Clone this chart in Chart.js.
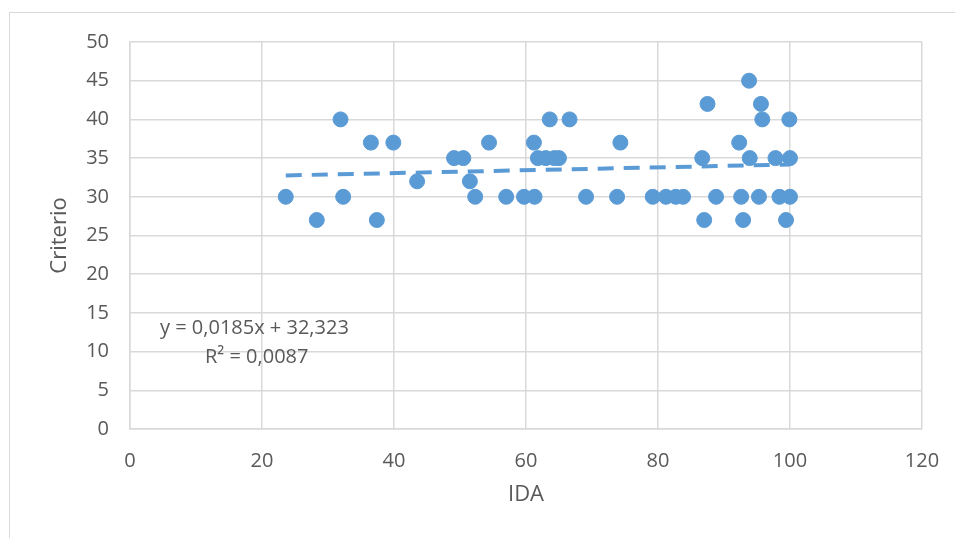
<!DOCTYPE html>
<html>
<head>
<meta charset="utf-8">
<script src="https://cdn.jsdelivr.net/npm/chart.js@4.4.1/dist/chart.umd.min.js"></script>
<style>
  body { margin: 0; background: #fff; }
  #wrap { position: relative; width: 955px; height: 538px; overflow: hidden; }
  #frame { position: absolute; left: 9px; top: 12px; width: 1000px; height: 600px;
           border-left: 1px solid #d9d9d9; border-top: 1px solid #d9d9d9; }
  canvas { position: absolute; left: 0; top: 0; }
</style>
</head>
<body>
<div id="wrap">
  <div id="frame"></div>
  <canvas id="myChart" width="955" height="538"></canvas>
</div>
<script>
// IDA (x) and Criterio (y)
const idaValues = [
  23.6, 32.3, 52.3, 57.0, 59.7, 61.3, 69.1, 73.8, 79.2, 81.2, 82.7, 83.8, 88.8, 92.6, 95.3, 98.4, 100,
  28.3, 37.4, 87.0, 92.9, 99.4,
  43.5, 51.5,
  49.1, 50.5, 61.8, 63.0, 64.3, 65.0, 86.7, 93.9, 97.8, 100,
  36.5, 39.9, 54.4, 61.2, 74.3, 92.3,
  31.9, 63.6, 66.6, 95.8, 99.9,
  87.5, 95.6,
  93.8
];
const criterioValues = [
  30, 30, 30, 30, 30, 30, 30, 30, 30, 30, 30, 30, 30, 30, 30, 30, 30,
  27, 27, 27, 27, 27,
  32, 32,
  35, 35, 35, 35, 35, 35, 35, 35, 35, 35,
  37, 37, 37, 37, 37, 37,
  40, 40, 40, 40, 40,
  42, 42,
  45
];

// linear trend line ends
const trendX = [23.6, 100];
const trendY = [32.76, 34.17];

const equationLines = ['y = 0,0185x + 32,323', 'R\u00b2 = 0,0087'];

const blue = '#5b9bd5';
const grey = '#595959';
const gridGrey = '#d9d9d9';
const fontName = '"Open Sans", sans-serif';

let points = idaValues.map((x, i) => ({ x: x, y: criterioValues[i] }));
let trend = trendX.map((x, i) => ({ x: x, y: trendY[i] }));

const equationLabel = {
  id: 'equationLabel',
  afterDatasetsDraw(chart) {
    const c = chart.ctx;
    c.save();
    c.fillStyle = grey;
    c.font = '20px ' + fontName;
    c.textBaseline = 'middle';
    c.fillText(equationLines[0], 160, 328);
    c.fillText(equationLines[1], 205, 357);
    c.restore();
  }
};

const ctx = document.getElementById('myChart');

new Chart(ctx, {
  type: 'scatter',
  data: {
    datasets: [
      {
        label: 'Criterio',
        data: points,
        backgroundColor: blue,
        borderColor: blue,
        pointRadius: 7.5,
        pointHoverRadius: 7.5,
        order: 1
      },
      {
        label: 'Lineal',
        type: 'line',
        data: trend,
        borderColor: blue,
        borderWidth: 4,
        borderDash: [16, 10],
        pointRadius: 0,
        fill: false,
        order: 0
      }
    ]
  },
  options: {
    responsive: false,
    animation: false,
    layout: { padding: { top: 42, right: 33, left: 0, bottom: 0 } },
    plugins: {
      legend: { display: false },
      tooltip: { enabled: false }
    },
    scales: {
      x: {
        type: 'linear',
        min: 0,
        max: 120,
        ticks: { stepSize: 20, color: grey, font: { family: fontName, size: 20 }, padding: 20 },
        grid: { color: gridGrey, lineWidth: 1.5, drawTicks: false },
        border: { color: gridGrey, width: 1.5 },
        title: { display: true, text: 'IDA', color: grey, font: { family: fontName, size: 22 }, padding: { top: 0, bottom: 30 } },
        afterFit(scale) {
          scale.height = 109;
          scale.paddingRight = 0;
        }
      },
      y: {
        min: 0,
        max: 50,
        ticks: { stepSize: 5, color: grey, font: { family: fontName, size: 20 }, padding: 21 },
        grid: { color: gridGrey, lineWidth: 1.5, drawTicks: false },
        border: { color: gridGrey, width: 1.5 },
        title: { display: true, text: 'Criterio', color: grey, font: { family: fontName, size: 22 }, padding: { top: 47, bottom: 0 } },
        afterFit(scale) { scale.width = 130; }
      }
    }
  },
  plugins: [equationLabel]
});
</script>
</body>
</html>
